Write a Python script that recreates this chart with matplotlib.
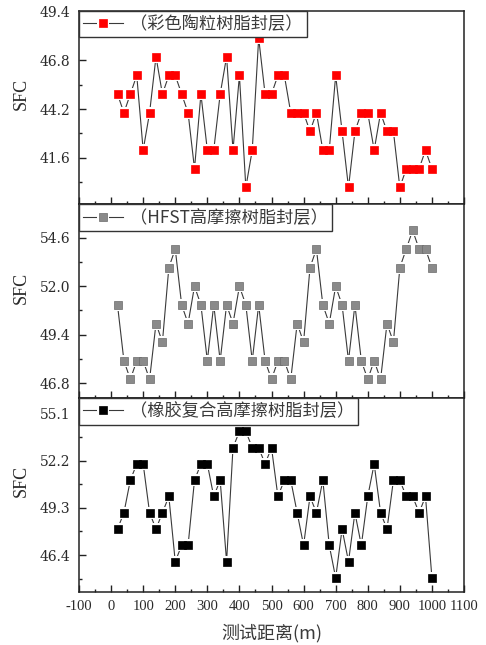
import matplotlib
matplotlib.use('Agg')
import matplotlib.pyplot as plt
from matplotlib.ticker import MultipleLocator, FixedLocator
from matplotlib.legend_handler import HandlerTuple

# data: SFC readings every 20 m along the test section
distance = list(range(20, 1001, 20))
sfc_ceramic = [45, 44, 45, 46, 42, 44, 47, 45, 46, 46,
               45, 44, 41, 45, 42, 42, 45, 47, 42, 46,
               40, 42, 48, 45, 45, 46, 46, 44, 44, 44,
               43, 44, 42, 42, 46, 43, 40, 43, 44, 44,
               42, 44, 43, 43, 40, 41, 41, 41, 42, 41]
sfc_hfst = [51, 48, 47, 48, 48, 47, 50, 49, 53, 54,
            51, 50, 52, 51, 48, 51, 48, 51, 50, 52,
            51, 48, 51, 48, 47, 48, 48, 47, 50, 49,
            53, 54, 51, 50, 52, 51, 48, 51, 48, 47,
            48, 47, 50, 49, 53, 54, 55, 54, 54, 53]
sfc_rubber = [48, 49, 51, 52, 52, 49, 48, 49, 50, 46,
              47, 47, 51, 52, 52, 50, 51, 46, 53, 54,
              54, 53, 53, 52, 53, 50, 51, 51, 49, 47,
              50, 49, 51, 47, 45, 48, 46, 49, 47, 50,
              52, 49, 48, 51, 51, 50, 50, 49, 50, 45]

series = [sfc_ceramic, sfc_hfst, sfc_rubber]
labels = ['（彩色陶粒树脂封层）', '（HFST高摩擦树脂封层）', '（橡胶复合高摩擦树脂封层）']
y_ticks = [[41.6, 44.2, 46.8, 49.4],
           [46.8, 49.4, 52.0, 54.6],
           [46.4, 49.3, 52.2, 55.1]]
x_ticks = list(range(-100, 1101, 100))

# styling
y_limits = [(39.1, 49.47), (46.0, 56.4), (44.15, 56.05)]
face_colors = ['#ff0000', '#8a8a8a', '#000000']
edge_colors = ['#ff0000', '#6a6a6a', '#000000']
TEXT = '#2a2a2a'
LINE = '#3a3a3a'
CJK = ['Noto Sans CJK SC', 'DejaVu Sans']

fig = plt.figure(figsize=(4.86, 6.45), dpi=100, facecolor='white')
left, width = 79 / 486, 385 / 486
panel_h = 193.7 / 645
bottom0 = 1 - 591.7 / 645

axes = []
for i in range(3):
    b = bottom0 + (2 - i) * panel_h
    ax = fig.add_axes([left, b, width, panel_h])
    axes.append(ax)

for i, ax in enumerate(axes):
    ys = series[i]
    ln, = ax.plot(distance, ys, color=LINE, lw=0.8, zorder=2)
    # white halo so the line stops short of each marker
    halo, = ax.plot(distance, ys, ls='none', marker='s', markersize=8.6,
                    markerfacecolor='white', markeredgecolor='white',
                    markeredgewidth=0, zorder=3)
    mk, = ax.plot(distance, ys, ls='none', marker='s', markersize=5.6,
                  markerfacecolor=face_colors[i], markeredgecolor=edge_colors[i],
                  markeredgewidth=0.5, zorder=4)

    ax.set_xlim(-100, 1100)
    ax.set_ylim(*y_limits[i])
    ax.xaxis.set_major_locator(FixedLocator(x_ticks))
    ax.xaxis.set_minor_locator(MultipleLocator(50))
    step = y_ticks[i][1] - y_ticks[i][0]
    ax.yaxis.set_major_locator(FixedLocator(y_ticks[i]))
    minors = [t - step / 2 for t in y_ticks[i]] + [y_ticks[i][-1] + step / 2]
    ax.yaxis.set_minor_locator(FixedLocator(minors))
    ax.set_yticklabels([f'{t:.1f}' for t in y_ticks[i]],
                       fontfamily='DejaVu Serif', fontsize=10, color=TEXT)

    ax.tick_params(which='both', direction='in', top=False, right=False,
                   color='#222222', width=1.0)
    ax.tick_params(which='major', length=4.8, pad=6)
    ax.tick_params(which='minor', length=2.4)
    for sp in ax.spines.values():
        sp.set_linewidth(1.1)
        sp.set_color('#222222')

    ax.set_ylabel('SFC', fontfamily='Liberation Serif', fontsize=13, color=TEXT)
    ax.yaxis.set_label_coords(-0.128, 0.57)

    if i < 2:
        ax.tick_params(axis='x', labelbottom=False)
    else:
        ax.set_xticklabels([str(t) for t in x_ticks],
                           fontfamily='Liberation Serif', fontsize=10.5, color=TEXT)

    leg = ax.legend([(ln, halo, mk)], [labels[i]],
                    handler_map={tuple: HandlerTuple(ndivide=1)},
                    loc='upper left', bbox_to_anchor=(0, 1), borderaxespad=0,
                    fancybox=False, framealpha=1, edgecolor='#333333',
                    handlelength=2.3, handletextpad=0.4, borderpad=0.25,
                    prop={'family': CJK, 'size': 12.4})
    leg.get_frame().set_linewidth(1.0)
    for t in leg.get_texts():
        t.set_color('#3a3a3a')
    leg.set_zorder(6)

axes[2].set_xlabel('测试距离(m)', fontfamily=CJK, fontsize=13, color='#3a3a3a')
axes[2].xaxis.set_label_coords(0.5, -(632.7 - 591.7) / 193.7)
axes[2].xaxis.label.set_va('center')

fig.savefig('out.png', dpi=100, facecolor='white')
